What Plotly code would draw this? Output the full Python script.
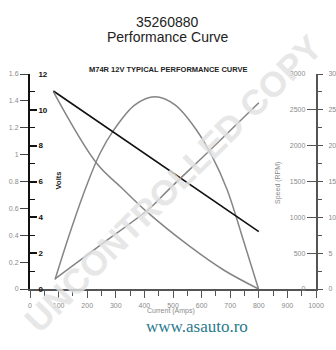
import plotly.graph_objects as go

# ---- data ----
current_power = [87.5, 140, 198, 245, 292, 367, 437, 507, 583, 636, 689, 745, 799]
power_kw = [0.07, 0.42, 0.77, 1.01, 1.18, 1.37, 1.43, 1.37, 1.18, 0.99, 0.74, 0.37, 0.0]

current_torque = [87.5, 245, 420, 483, 630, 800]
torque_nm = [1.4, 6.1, 11.3, 13.8, 19.4, 26.0]

current_speed = [81.6, 233, 321, 408, 560, 677, 799]
speed_rpm = [2753, 1754, 1409, 1079, 590, 265, 0]

current_volts = [81.6, 800]
volts = [11.05, 3.2]

title_lines = ["35260880", "Performance Curve"]
chart_subtitle = "M74R 12V TYPICAL PERFORMANCE CURVE"
watermark = "UNCONTROLLED COPY"
url_text = "www.asauto.ro"

GRAY = "#858585"
LBL = "#8a8a8a"
FONT = "Liberation Sans, Arial, sans-serif"

fig = go.Figure()
fig.add_trace(go.Scatter(x=current_power, y=power_kw, mode="lines", yaxis="y",
                         line=dict(color=GRAY, width=1.5, shape="spline"), showlegend=False))
fig.add_trace(go.Scatter(x=current_torque, y=torque_nm, mode="lines", yaxis="y4",
                         line=dict(color=GRAY, width=1.5, shape="spline"), showlegend=False))
fig.add_trace(go.Scatter(x=current_speed, y=speed_rpm, mode="lines", yaxis="y3",
                         line=dict(color=GRAY, width=1.5, shape="spline"), showlegend=False))
fig.add_trace(go.Scatter(x=current_volts, y=volts, mode="lines", yaxis="y2",
                         line=dict(color="#111111", width=1.6), showlegend=False))

fig.update_layout(
    width=336, height=350,
    margin=dict(l=30, r=20, t=74, b=61, autoexpand=False),
    paper_bgcolor="white", plot_bgcolor="white",
    font=dict(family=FONT),
    xaxis=dict(range=[0, 1000], dtick=100, tick0=0, showgrid=False, zeroline=False,
               automargin=False, ticklabeloverflow="allow",
               showline=True, linecolor="#555", linewidth=2,
               ticks="outside", ticklen=7, tickcolor="#555", tickwidth=1.3,
               tickfont=dict(size=7, color=LBL), ticklabelstandoff=2,
               minor=dict(ticks="outside", ticklen=5, dtick=50, tickcolor="#555", tickwidth=1.3)),
    yaxis=dict(range=[0, 1.6], dtick=0.2, showgrid=False, zeroline=False,
               automargin=False, ticklabeloverflow="allow",
               showline=True, linecolor="#111", linewidth=2,
               ticks="outside", ticklen=8, tickcolor="#444", tickwidth=1.3,
               tickfont=dict(size=7, color=LBL)),
    yaxis2=dict(range=[0, 12], dtick=2, overlaying="y", side="left", anchor="x",
                automargin=False, ticklabeloverflow="allow",
                showgrid=False, zeroline=False, showline=False,
                ticks="inside", ticklen=7, tickcolor="#111", tickwidth=1.5,
                ticklabelposition="inside",
                tickfont=dict(size=8, color="#111", weight="bold"),
                minor=dict(ticks="inside", ticklen=5, dtick=1, tickcolor="#111", tickwidth=1.3)),
    yaxis3=dict(range=[0, 3000], dtick=500, overlaying="y", side="right", anchor="x",
                automargin=False, ticklabeloverflow="allow",
                showgrid=False, zeroline=False,
                showline=True, linecolor="#555", linewidth=2,
                ticks="inside", ticklen=9, tickcolor="#555", tickwidth=1.3,
                ticklabelposition="inside",
                tickfont=dict(size=7, color=LBL)),
    yaxis4=dict(range=[0, 30], dtick=5, overlaying="y", side="right", anchor="x",
                automargin=False, ticklabeloverflow="allow",
                showgrid=False, zeroline=False, showline=False,
                ticks="outside", ticklen=6, tickcolor="#555", tickwidth=1.3,
                tickfont=dict(size=7, color=LBL), ticklabelstandoff=4,
                minor=dict(ticks="outside", ticklen=5, dtick=2.5, tickcolor="#555", tickwidth=1.3)),
)

ann = []
ann.append(dict(text=title_lines[0], x=0.4825, y=1.288, xref="paper", yref="paper",
                showarrow=False, font=dict(size=14, color="#222", family=FONT)))
ann.append(dict(text=title_lines[1], x=0.4825, y=1.219, xref="paper", yref="paper",
                showarrow=False, font=dict(size=14, color="#222", family=FONT)))
ann.append(dict(text="<b>" + chart_subtitle + "</b>", x=0.486, y=1.051, xref="paper", yref="paper",
                showarrow=False, font=dict(size=7.5, color="#222", family=FONT)))
ann.append(dict(text="<b>Volts</b>", x=0.080, y=0.507, xref="paper", yref="paper",
                textangle=-90, showarrow=False, font=dict(size=7.5, color="#222", family=FONT)))
ann.append(dict(text="Speed (RPM)", x=0.888, y=0.493, xref="paper", yref="paper",
                textangle=-90, showarrow=False, font=dict(size=7, color=LBL, family=FONT)))
ann.append(dict(text="Current (Amps)", x=0.493, y=-0.128, xref="paper", yref="paper",
                showarrow=False, font=dict(size=7, color=LBL, family=FONT)))
ann.append(dict(text=url_text, x=0.769, y=-0.228, xref="paper", yref="paper",
                showarrow=False, font=dict(size=17, color="#2b7a8c", family="Liberation Serif, serif")))
ann.append(dict(text="<b>" + watermark + "</b>", x=0.5, y=0.49, xref="paper", yref="paper",
                textangle=-45, showarrow=False, opacity=0.8,
                font=dict(size=35, color="#e2e2e2", family=FONT)))
fig.update_layout(annotations=ann)

fig.write_html("out.html")
